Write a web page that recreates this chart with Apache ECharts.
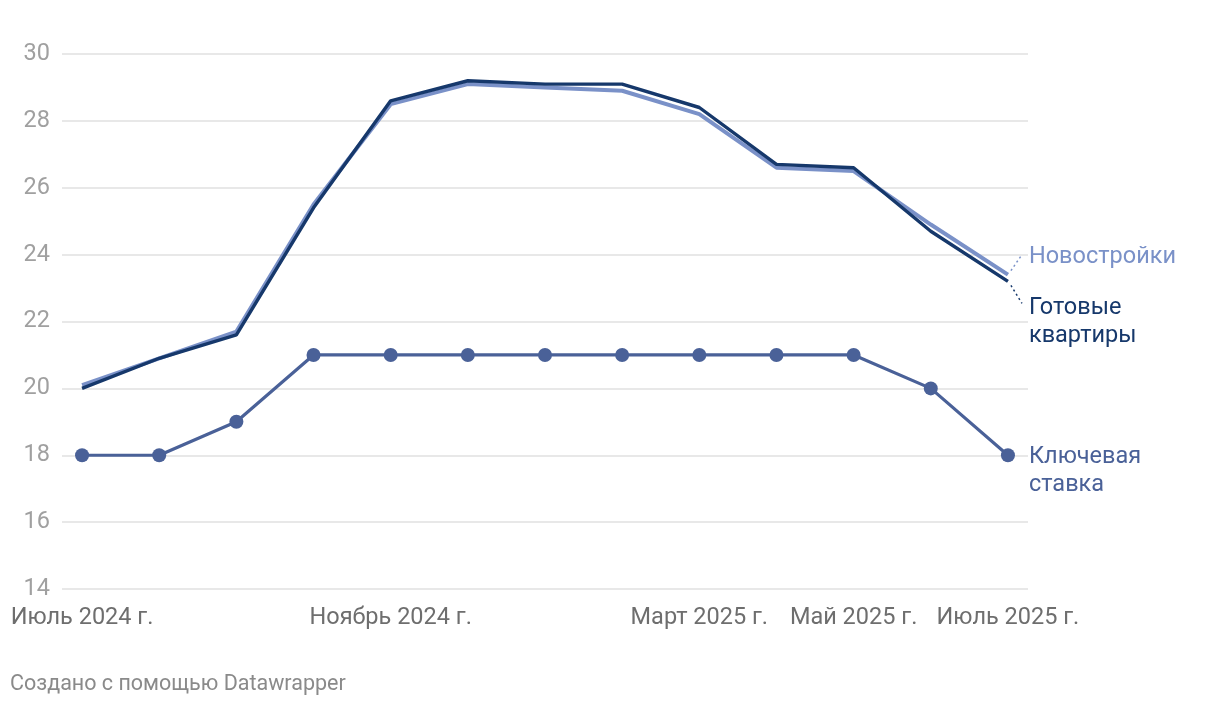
<!DOCTYPE html>
<html>
<head>
<meta charset="utf-8">
<script src="https://cdn.jsdelivr.net/npm/echarts@6/dist/echarts.min.js"></script>
<style>
html,body{margin:0;padding:0;background:#fff;}
#c{width:1220px;height:706px;}
</style>
</head>
<body>
<div id="c"></div>
<script>
const months = ['Июль 2024 г.','Август 2024 г.','Сентябрь 2024 г.','Октябрь 2024 г.','Ноябрь 2024 г.','Декабрь 2024 г.','Январь 2025 г.','Февраль 2025 г.','Март 2025 г.','Апрель 2025 г.','Май 2025 г.','Июнь 2025 г.','Июль 2025 г.'];
const tickIdx = [0, 4, 8, 10, 12];
const yTicks = [14, 16, 18, 20, 22, 24, 26, 28, 30];
const newBuild = [20.1, 20.9, 21.7, 25.5, 28.5, 29.1, 29.0, 28.9, 28.2, 26.6, 26.5, 24.9, 23.4];
const ready = [20.0, 20.9, 21.6, 25.4, 28.6, 29.2, 29.1, 29.1, 28.4, 26.7, 26.6, 24.7, 23.2];
const keyRate = [18, 18, 19, 21, 21, 21, 21, 21, 21, 21, 21, 20, 18];
const names = ['Новостройки', 'Готовые\nквартиры', 'Ключевая\nставка'];

const cNew = '#7a91c8', cReady = '#16386b', cKey = '#4a6198';
const pts = a => a.map((v, i) => [i, v]);
const FONT = 'Roboto';

const chart = echarts.init(document.getElementById('c'), null, {renderer: 'canvas'});
const option = {
  animation: false,
  backgroundColor: '#fff',
  textStyle: {fontFamily: FONT},
  grid: {left: 62, right: 192, top: 54, bottom: 117, containLabel: false},
  xAxis: {
    type: 'value', min: -0.26, max: 12.26,
    axisLine: {show: false}, axisTick: {show: false}, splitLine: {show: false},
    axisLabel: {
      customValues: tickIdx, color: '#6e6e6e', fontSize: 23.5, fontFamily: FONT, margin: 17,
      formatter: v => months[Math.round(v)]
    }
  },
  yAxis: {
    type: 'value', min: 14, max: 30, interval: 2,
    axisLine: {show: false}, axisTick: {show: false},
    splitLine: {lineStyle: {color: '#e1e1e1', width: 1.5}},
    axisLabel: {color: '#a0a0a0', fontSize: 23.5, fontFamily: FONT, margin: 12}
  },
  series: [
    {
      name: 'new', type: 'line', data: pts(newBuild), symbol: 'none', z: 2,
      lineStyle: {color: cNew, width: 4}, itemStyle: {color: cNew},
      endLabel: {show: true, formatter: names[0], color: cNew, fontSize: 23.5, fontFamily: FONT, offset: [13, -18], lineHeight: 28}
    },
    {
      name: 'ready', type: 'line', data: pts(ready), symbol: 'none', z: 3,
      lineStyle: {color: cReady, width: 3.4}, itemStyle: {color: cReady},
      endLabel: {show: true, formatter: names[1], color: cReady, fontSize: 23.5, fontFamily: FONT, offset: [13, 41], lineHeight: 28}
    },
    {
      name: 'key', type: 'line', data: pts(keyRate), symbol: 'circle', symbolSize: 14, z: 4,
      lineStyle: {color: cKey, width: 3.2}, itemStyle: {color: cKey},
      endLabel: {show: true, formatter: names[2], color: cKey, fontSize: 23.5, fontFamily: FONT, offset: [13, 16], lineHeight: 28}
    }
  ]
};
chart.setOption(option);

const pN = chart.convertToPixel({gridIndex: 0}, [12, newBuild[12]]);
const pR = chart.convertToPixel({gridIndex: 0}, [12, ready[12]]);
chart.setOption({
  graphic: [
    {type: 'line', shape: {x1: pN[0] + 3, y1: pN[1] - 4, x2: pN[0] + 14, y2: pN[1] - 20},
     style: {stroke: cNew, lineWidth: 1.5, lineDash: [2, 3]}},
    {type: 'line', shape: {x1: pR[0] + 3, y1: pR[1] + 4, x2: pR[0] + 14, y2: pR[1] + 22},
     style: {stroke: cReady, lineWidth: 1.5, lineDash: [2, 3]}},
    {type: 'text', left: 10, top: 674,
     style: {text: 'Создано с помощью Datawrapper', fill: '#8a8a8a', font: '21.5px Roboto'}}
  ]
});
</script>
</body>
</html>
